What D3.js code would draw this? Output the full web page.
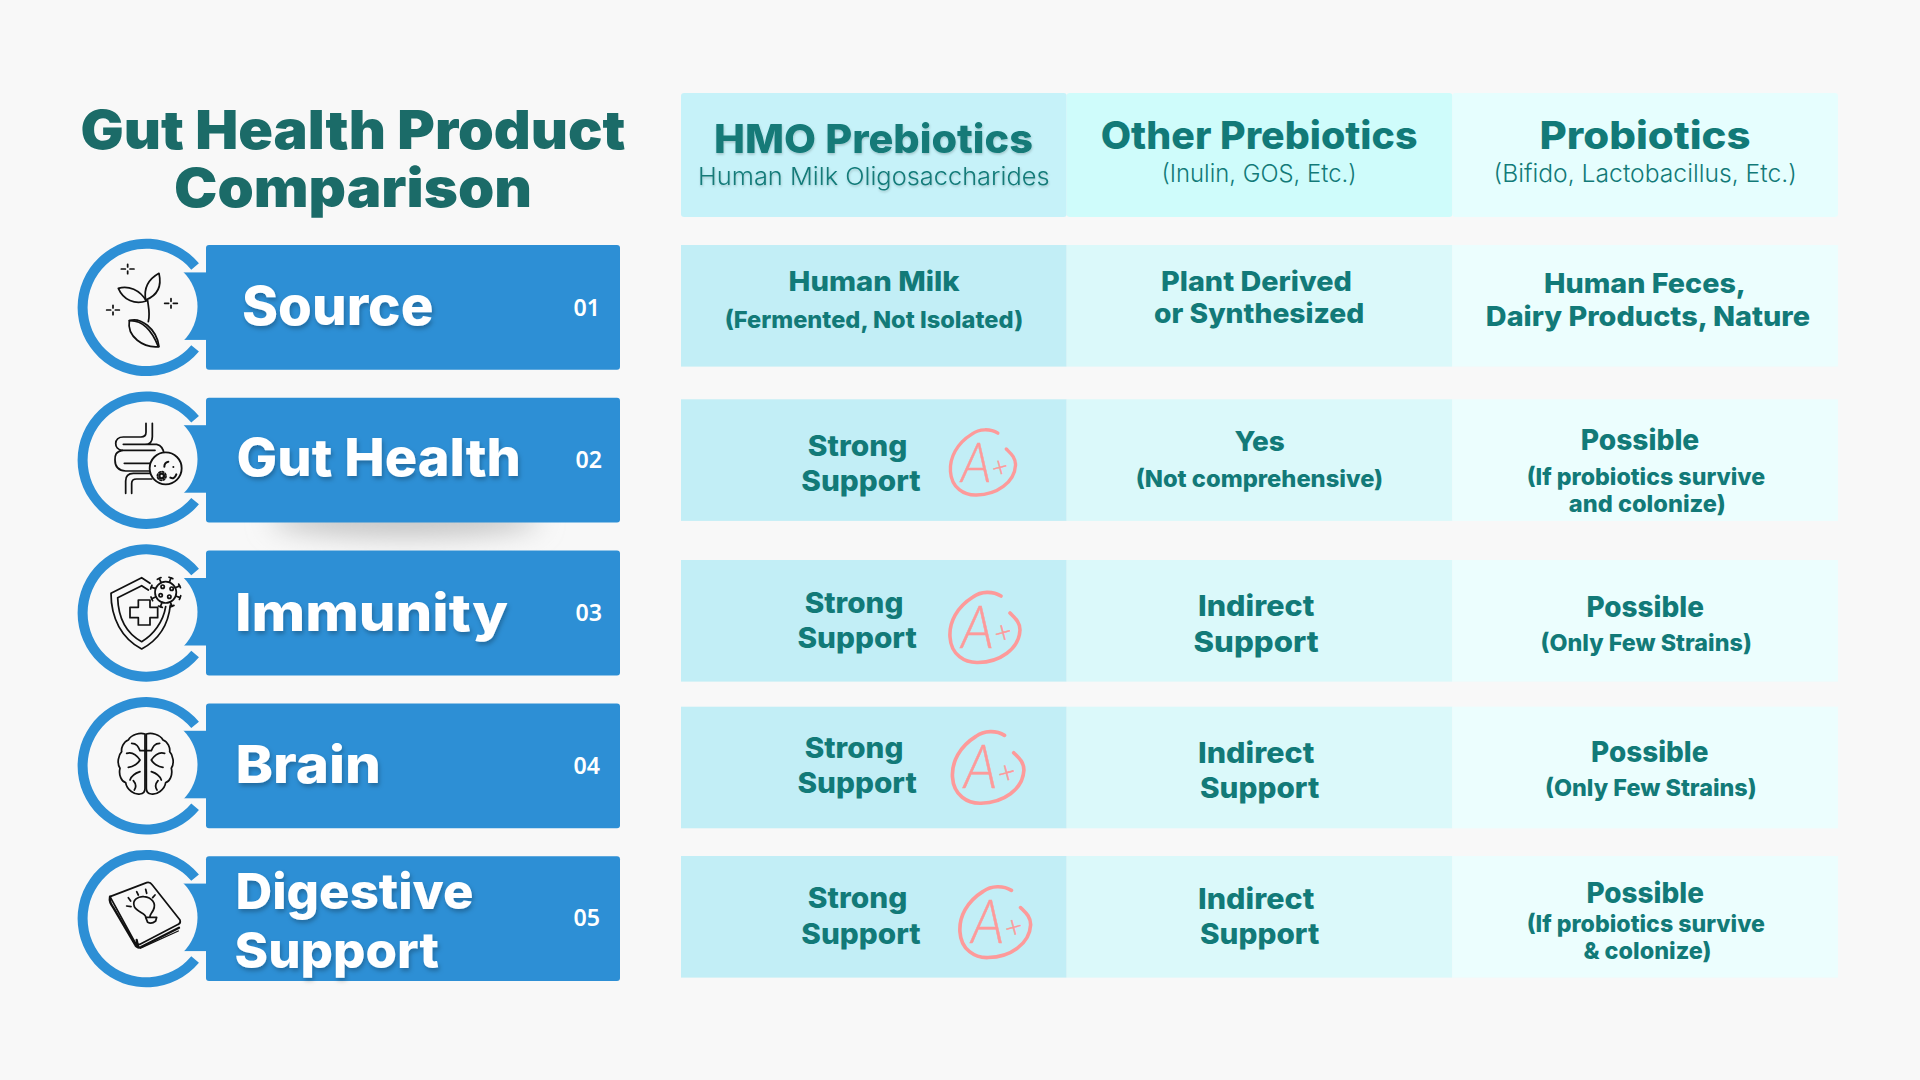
<!DOCTYPE html>
<html><head><meta charset="utf-8">
<script src="https://cdn.jsdelivr.net/npm/d3@7"></script>
<style>html,body{margin:0;padding:0;background:#f8f8f8}svg{display:block}text{font-family:Inter,"Noto Sans",sans-serif}</style>
</head><body><svg id="c" width="1920" height="1080"></svg>
<script>
// ---------- content ----------
const titleLines = ["Gut Health Product", "Comparison"];
const categories = ["Source", "Gut Health", "Immunity", "Brain", "Digestive Support"];
const categoryLines = [["Source"], ["Gut Health"], ["Immunity"], ["Brain"], ["Digestive", "Support"]];
const numbers = ["01", "02", "03", "04", "05"];
const columns = ["HMO Prebiotics", "Other Prebiotics", "Probiotics"];
const columnSubs = ["Human Milk Oligosaccharides", "(Inulin, GOS, Etc.)", "(Bifido, Lactobacillus, Etc.)"];
const hmoCells = [["Human Milk", "(Fermented, Not Isolated)"], ["Strong", "Support"], ["Strong", "Support"], ["Strong", "Support"], ["Strong", "Support"]];
const otherCells = [["Plant Derived", "or Synthesized"], ["Yes", "(Not comprehensive)"], ["Indirect", "Support"], ["Indirect", "Support"], ["Indirect", "Support"]];
const probioticCells = [["Human Feces,", "Dairy Products, Nature"], ["Possible", "(If probiotics survive", "and colonize)"], ["Possible", "(Only Few Strains)"], ["Possible", "(Only Few Strains)"], ["Possible", "(If probiotics survive", "& colonize)"]];
const grades = ["", "A+", "A+", "A+", "A+"];

// ---------- layout (x0, x1, baseline, size, weight) ----------
const titleBox = [[80.5, 625.5, 149.4], [174, 532, 207.4]];
const labelBox = [[[242, 433.5, 325.3, 54]], [[236.5, 521, 475.7, 52]], [[235, 508, 631, 52]], [[235.5, 381, 783.3, 52]], [[235.5, 473.5, 909.3, 50], [234.5, 439, 968.3, 50]]];
const numberBox = [[573.5, 600, 315.5], [575.5, 602, 467.9], [575.5, 602, 620.5], [573.5, 600, 773.5], [573.5, 600, 926.2]];
const headBox = [[714, 1033, 152.7, 40], [1100.7, 1417.5, 149.3, 38], [1539.5, 1750.5, 149.3, 38]];
const subBox = [[698, 1049.5, 185], [1161.5, 1356.5, 181.7], [1493.6, 1796.8, 181.7]];
const cellBox = [
  [[[788.6, 959.7, 291, 27], [724.7, 1023.2, 328.3, 23]], [[807.8, 907.3, 455.7, 28], [801.3, 920.7, 491, 28]], [[804.7, 903.4, 612.7, 28], [797.4, 916.8, 647.7, 28]], [[804.7, 903.4, 757.7, 28], [797.4, 916.8, 792.7, 28]], [[807.8, 907.3, 908.3, 28], [801.3, 920.7, 944, 28]]],
  [[[1161, 1351.8, 291, 27], [1154, 1364.3, 323.3, 27]], [[1234.5, 1284.9, 451, 27], [1135.7, 1383.2, 487.3, 23]], [[1198, 1314.3, 616, 28], [1193.5, 1318.6, 651.7, 28]], [[1198, 1314.3, 762.7, 28], [1200, 1319.3, 797.7, 28]], [[1198, 1314.3, 909, 28], [1200, 1319.3, 944, 28]]],
  [[[1544, 1746, 292.7, 27], [1485.8, 1810, 325.7, 27]], [[1580.7, 1699.3, 450, 27.5], [1526.7, 1765.2, 485, 23], [1568.8, 1725.7, 512.3, 23]], [[1586.4, 1704, 616.7, 27.5], [1540.5, 1751.8, 651, 23]], [[1591, 1708.5, 761.7, 27.5], [1545, 1756.7, 796, 23]], [[1586.4, 1704, 903.3, 27.5], [1526.7, 1765, 931.7, 23], [1583.4, 1711.6, 959, 23]]]
];
const gradePos = [null, [983, 462, .93], [985, 627, 1], [988.2, 767, 1.02], [995.3, 921.7, 1.01]];
const rowTops = [245, 399.3, 560, 706.7, 856];
const rowHeight = 121.6;
const BLUE = "#2d8fd5", BG = "#f8f8f8", TEAL = "#127a78", TITLE = "#1b6b68", PINK = "#fd9a9a";
const headFill = ["#c6f2f9", "#cffcfb", "#e6fefe"];
const rowFill = ["#c2eef6", "#dbf9fa", "#ecfefe"];

// ---------- scales ----------
const svg = d3.select("#c");
const colX = d3.scaleBand().domain(columns).range([681, 1838]);
const rowY = d3.scaleOrdinal().domain(categories).range(rowTops);
const barY = d3.scaleBand().domain(categories).range([245, 981]).paddingInner(28 / 153);
const ringArc = d3.arc().innerRadius(58.7).outerRadius(68.7).startAngle(130 * Math.PI / 180).endAngle(410 * Math.PI / 180);

const defs = svg.append("defs");
const sh = defs.append("filter").attr("id", "ts").attr("x", "-10%").attr("y", "-20%").attr("width", "120%").attr("height", "150%");
sh.append("feDropShadow").attr("dx", 1.5).attr("dy", 3).attr("stdDeviation", 2).attr("flood-color", "#000").attr("flood-opacity", .25);
const sh2 = defs.append("filter").attr("id", "ts2").attr("x", "-5%").attr("y", "-20%").attr("width", "110%").attr("height", "150%");
sh2.append("feDropShadow").attr("dx", .5).attr("dy", 1.5).attr("stdDeviation", 1).attr("flood-color", "#000").attr("flood-opacity", .2);
defs.append("filter").attr("id", "blur").attr("x", "-30%").attr("y", "-100%").attr("width", "160%").attr("height", "300%")
  .append("feGaussianBlur").attr("stdDeviation", 13);

svg.append("rect").attr("width", 1920).attr("height", 1080).attr("fill", BG);

function fit(g, str, box, size, weight, fill, family) {
  const t = g.append("text").text(str).attr("x", box[0]).attr("y", box[2])
    .attr("font-size", size).attr("font-weight", weight).attr("fill", fill)
    .attr("textLength", box[1] - box[0]).attr("lengthAdjust", "spacingAndGlyphs");
  if (family) t.style("font-family", family);
  return t;
}

// title
titleLines.forEach((s, i) => fit(svg, s, titleBox[i], 54, 900, TITLE));

// soft shadow under the second bar
svg.append("ellipse").attr("cx", 405).attr("cy", 520).attr("rx", 135).attr("ry", 17)
  .attr("fill", "#c4c4c4").attr("filter", "url(#blur)");

// table
columns.forEach((c, i) => {
  svg.append("rect").attr("x", colX(c)).attr("y", 93).attr("width", colX.bandwidth()).attr("height", 124).attr("rx", 3).attr("fill", headFill[i]);
  const hg = svg.append("g");
  if (i === 0) hg.attr("filter", "url(#ts2)");
  fit(hg, c, headBox[i], headBox[i][3], 800, TEAL);
  fit(hg, columnSubs[i], subBox[i], 24.5, 300, TEAL);
});
[hmoCells, otherCells, probioticCells].forEach((col, ci) => {
  categories.forEach((cat, ri) => {
    svg.append("rect").attr("x", colX(columns[ci])).attr("y", rowY(cat)).attr("width", colX.bandwidth()).attr("height", rowHeight).attr("fill", rowFill[ci]);
    col[ri].forEach((line, li) => {
      const b = cellBox[ci][ri][li];
      fit(svg, line, b, b[3] + .5, 800, TEAL);
    });
  });
});

// grades
grades.forEach((g, i) => {
  if (!g) return;
  const p = gradePos[i];
  const m = svg.append("g").attr("transform", `translate(${p[0]},${p[1]}) scale(${p[2]})`).attr("fill", "none").attr("stroke", PINK).attr("stroke-linecap", "round");
  m.append("path").attr("stroke-width", 3.6).attr("d", "M16 -31C8 -36 -4 -36 -12 -30C-28 -20 -36 -5 -35 10C-34 28 -20 36 -7 35.5C15 35 34 22 35 3C35 -5 30 -9 25 -14");
  m.append("text").attr("x", -24).attr("y", 21).attr("stroke", PINK).attr("stroke-width", .5).attr("fill", PINK)
    .style("font-family", "Lato").style("font-style", "italic").attr("font-weight", 300).attr("font-size", 60)
    .attr("textLength", 33).attr("lengthAdjust", "spacingAndGlyphs").text(g[0]);
  m.append("text").attr("x", 9.5).attr("y", 16).attr("stroke", PINK).attr("stroke-width", .5).attr("fill", PINK)
    .style("font-family", "Lato").attr("font-weight", 300).attr("font-size", 30)
    .attr("transform", "rotate(-15 17 6)").text(g[1]);
});

// ---------- pictograms (drawn in a 330-unit box) ----------
function P(g, d, w) { const p = g.append("path").attr("d", d); if (w) p.attr("stroke-width", w); return p; }
function sparkle(g, x, y) { P(g, `M${x} ${y - 14}V${y - 6}M${x} ${y + 6}V${y + 14}M${x - 19} ${y}H${x - 7}M${x + 7} ${y}H${x + 19}`); }
function plant(g) {
  P(g, "M152 150C145 110 165 85 192 70C200 105 190 135 152 150Z");
  P(g, "M70 115C100 105 135 120 154 153C120 165 85 150 70 115Z");
  P(g, "M158 152C160 170 166 190 160 215");
  P(g, "M103 212C135 200 185 235 192 290C145 295 95 260 103 212Z");
  P(g, "M103 212C140 210 170 240 190 290");
  sparkle(g, 98, 57); sparkle(g, 54, 180); sparkle(g, 228, 160);
}
function gut(g) {
  P(g, "M153 55V82Q153 96 138 96H85C55 96 55 134 82 136C62 140 60 150 60 165C60 185 72 197 92 198H165");
  P(g, "M172 55V95Q172 118 150 118H85M150 118H185Q205 122 208 150");
  P(g, "M82 136H180M88 175H165");
  P(g, "M92 265V228Q92 205 115 205H165M110 265V235Q110 222 125 222H170");
  g.append("circle").attr("cx", 212).attr("cy", 190).attr("r", 48).attr("fill", BG).attr("stroke-width", 5.5);
  g.append("circle").attr("cx", 200).attr("cy", 213).attr("r", 7).attr("stroke-width", 7);
  g.append("circle").attr("cx", 200).attr("cy", 213).attr("r", 13).attr("stroke-width", 5).attr("stroke-dasharray", "5 5.2");
  P(g, "M208 185Q208 172 220 170M226 218Q238 224 244 208M180 183h.1M235 186h.1", 6);
}
function shield(g) {
  P(g, "M165 85L140 68L48 115C48 190 80 250 140 282C190 255 220 210 226 150");
  P(g, "M160 105L140 92L68 128C70 190 95 235 140 260C175 240 205 200 212 155");
  P(g, "M130 135H165V157H188V188H165V210H130V188H105V157H130Z");
  g.append("circle").attr("cx", 212).attr("cy", 112).attr("r", 32).attr("fill", BG);
  d3.range(8).forEach(k => {
    const a = k * Math.PI / 4 + .35, c = Math.cos(a), s = Math.sin(a);
    g.append("line").attr("x1", 212 + 32 * c).attr("y1", 112 + 32 * s).attr("x2", 212 + 46 * c).attr("y2", 112 + 46 * s);
    g.append("line").attr("x1", 212 + 46 * c - 6 * s).attr("y1", 112 + 46 * s + 6 * c).attr("x2", 212 + 46 * c + 6 * s).attr("y2", 112 + 46 * s - 6 * c);
  });
  [[203, 95], [230, 101], [197, 121], [223, 125]].forEach(d => g.append("circle").attr("cx", d[0]).attr("cy", d[1]).attr("r", 5));
}
function brain(g) {
  const half = h => {
    P(h, "M150 72C135 68 110 72 100 90C85 95 78 115 80 125C70 135 65 160 75 175C70 195 80 215 92 218C95 240 120 255 135 252C145 252 150 245 150 235V72");
    P(h, "M95 130C110 125 125 135 135 150M100 172C115 170 130 160 135 150M110 100C125 100 130 110 135 122M105 210C110 195 120 190 135 185M118 240C125 230 122 220 115 212M135 122H150");
  };
  half(g);
  half(g.append("g").attr("transform", "translate(304,0) scale(-1,1)"));
}
function book(g) {
  P(g, "M45 95L155 53Q165 50 172 60L255 165Q258 175 250 178L135 238Q125 240 120 232Z");
  P(g, "M45 95C42 110 48 118 55 128L120 238Q125 250 138 246L252 188M125 225L130 248", 7);
  P(g, "M135 250L250 198", 4);
  P(g, "M152 155C150 145 125 140 118 125C110 105 130 93 147 95C170 97 185 115 175 135C170 145 165 148 165 155");
  P(g, "M152 157H185L182 168Q170 178 158 172Z");
  P(g, "M100 98L107 108M125 80L130 90M152 73L155 85M180 90L173 98M95 123L108 125");
}

// rows on the left
const icons = [plant, gut, shield, brain, book];
const iconOrigin = [[95, 250], [95, 405], [95, 555], [95, 710], [95, 865]];
categories.forEach((cat, i) => {
  const y = barY(cat), cy = y + barY.bandwidth() / 2;
  const g = svg.append("g");
  g.append("path").attr("d", ringArc).attr("transform", `translate(146.3,${cy})`).attr("fill", BLUE);
  g.append("rect").attr("x", 160).attr("y", cy - 35).attr("width", 50).attr("height", 67.5).attr("fill", BLUE);
  g.append("circle").attr("cx", 148.5).attr("cy", cy - 1).attr("r", 49).attr("fill", BG);
  g.append("rect").attr("x", 206).attr("y", y).attr("width", 414).attr("height", barY.bandwidth()).attr("rx", 3).attr("fill", BLUE);
  const tg = g.append("g").attr("filter", "url(#ts)");
  categoryLines[i].forEach((s, li) => { const b = labelBox[i][li]; fit(tg, s, b, b[3], 800, "#fff"); });
  fit(g, numbers[i], numberBox[i], 23, 600, "#fff", "'Noto Sans'");
  const ic = g.append("g").attr("transform", `translate(${iconOrigin[i][0]},${iconOrigin[i][1]}) scale(${1 / 3})`)
    .attr("fill", "none").attr("stroke", "#111").attr("stroke-width", 5.2).attr("stroke-linecap", "round").attr("stroke-linejoin", "round");
  icons[i](ic);
});
</script></body></html>
